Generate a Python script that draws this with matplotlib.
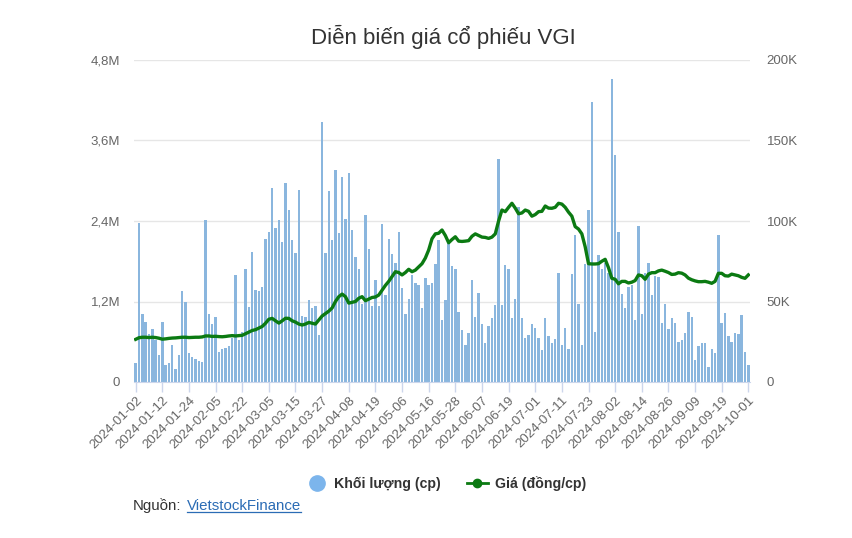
import matplotlib
matplotlib.use("Agg")
import matplotlib.pyplot as plt
from matplotlib.lines import Line2D
import pandas as pd
import numpy as np

plt.rcParams['font.family'] = ['Liberation Sans', 'DejaVu Sans']

# ---------------- data ----------------
holidays = ["2024-01-01", "2024-02-08", "2024-02-09", "2024-02-12", "2024-02-13",
            "2024-02-14", "2024-04-18", "2024-04-29", "2024-04-30", "2024-05-01",
            "2024-09-02", "2024-09-03"]
dates = pd.bdate_range("2024-01-02", "2024-10-01", freq="C", holidays=holidays)
date_labels = [d.strftime("%Y-%m-%d") for d in dates]

volume_m = [
    0.28, 2.37, 1.01, 0.89, 0.72, 0.79, 0.63, 0.40, 0.89, 0.25,
    0.29, 0.55, 0.20, 0.40, 1.35, 1.20, 0.43, 0.37, 0.34, 0.32,
    0.30, 2.41, 1.01, 0.87, 0.97, 0.45, 0.49, 0.50, 0.53, 0.65,
    1.60, 0.63, 0.75, 1.68, 1.12, 1.94, 1.37, 1.35, 1.42, 2.13,
    2.24, 2.89, 2.29, 2.41, 2.08, 2.96, 2.57, 2.12, 1.93, 2.86,
    0.98, 0.97, 1.22, 1.10, 1.13, 0.70, 3.87, 1.93, 2.84, 2.12,
    3.16, 2.22, 3.06, 2.43, 3.12, 2.27, 1.87, 1.69, 1.17, 2.49,
    1.98, 1.13, 1.52, 1.13, 2.36, 1.30, 2.13, 1.91, 1.78, 2.24,
    1.40, 1.01, 1.23, 1.60, 1.48, 1.45, 1.11, 1.55, 1.45, 1.48,
    1.76, 2.12, 0.93, 1.22, 2.07, 1.73, 1.68, 1.05, 0.78, 0.55,
    0.73, 1.52, 0.97, 1.32, 0.87, 0.58, 0.83, 0.95, 1.15, 3.32,
    1.15, 1.74, 1.69, 0.96, 1.23, 2.61, 0.95, 0.65, 0.70, 0.87,
    0.80, 0.65, 0.48, 0.95, 0.68, 0.58, 0.64, 1.62, 0.55, 0.80,
    0.49, 1.61, 2.19, 1.16, 0.55, 1.76, 2.57, 4.17, 0.75, 1.89,
    1.69, 1.78, 1.62, 4.51, 3.38, 2.24, 1.31, 1.11, 1.42, 1.45,
    0.92, 2.32, 1.01, 1.63, 1.78, 1.30, 1.58, 1.57, 0.88, 1.16,
    0.79, 0.95, 0.88, 0.60, 0.63, 0.73, 1.05, 0.97, 0.33, 0.53,
    0.58, 0.58, 0.23, 0.49, 0.43, 2.19, 0.88, 1.03, 0.68, 0.60,
    0.73, 0.72, 1.00, 0.45, 0.25,
]

price_k = [
    26.5, 27.5, 27.8, 27.8, 27.6, 27.8, 27.6, 27.2, 26.6, 26.8,
    27.1, 27.3, 27.4, 27.6, 27.8, 27.8, 27.6, 27.7, 27.8, 27.8,
    28.0, 28.6, 28.6, 28.3, 28.4, 28.2, 28.1, 28.3, 28.6, 28.8,
    28.6, 28.8, 29.0, 30.0, 31.0, 32.0, 32.5, 33.5, 34.5, 36.5,
    39.0, 39.5, 38.0, 36.6, 38.0, 39.6, 39.5, 38.0, 37.2, 36.0,
    35.4, 36.0, 37.0, 36.5, 36.0, 38.5, 41.0, 42.5, 44.0, 46.0,
    50.0, 53.0, 54.6, 53.0, 49.0, 49.5, 50.0, 52.0, 53.0, 50.5,
    51.5, 52.5, 52.8, 54.0, 57.0, 60.0, 62.5, 65.5, 68.5, 68.0,
    66.5, 68.0, 70.0, 68.5, 69.5, 71.5, 73.5, 77.0, 82.0, 89.0,
    92.0, 92.4, 94.4, 91.0, 86.5, 88.5, 90.2, 87.5, 87.3, 87.5,
    87.8, 90.5, 92.0, 91.0, 90.0, 89.8, 89.2, 90.0, 92.0, 100.0,
    106.8, 105.8, 108.5, 111.0, 108.0, 104.5, 105.0, 106.8, 106.0, 103.0,
    104.0, 105.8, 106.0, 109.3, 108.0, 107.9, 108.5, 111.0, 110.5, 108.5,
    105.5, 103.0, 96.5, 95.0, 92.0, 84.0, 73.5, 73.3, 73.3, 73.5,
    75.0, 76.2, 71.0, 64.4, 63.8, 61.0, 62.5, 62.5, 61.5, 62.0,
    63.0, 66.5, 66.0, 63.8, 67.0, 67.9, 67.9, 69.0, 69.5, 68.8,
    68.0, 66.8, 67.0, 67.9, 67.6, 66.5, 64.5, 63.5, 62.8, 62.3,
    62.3, 62.5, 62.0, 61.3, 62.5, 67.5, 67.5, 66.0, 65.8, 67.0,
    66.5, 66.0, 65.0, 64.4, 66.5,
]

left_ticks = [0, 1.2, 2.4, 3.6, 4.8]
left_tick_labels = ["0", "1,2M", "2,4M", "3,6M", "4,8M"]
right_ticks = [0, 50, 100, 150, 200]
right_tick_labels = ["0", "50K", "100K", "150K", "200K"]

title = "Diễn biến giá cổ phiếu VGI"
vol_label = "Khối lượng (cp)"
price_label = "Giá (đồng/cp)"

# ---------------- styling ----------------
bar_color = "#8ab6de"
line_color = "#0b7a12"
text_grey = "#666666"

W, H = 852, 538
fig = plt.figure(figsize=(W / 100, H / 100), dpi=100)
ax = fig.add_axes([134 / W, 1 - 382 / H, (750 - 134) / W, (382 - 60) / H])
ax2 = ax.twinx()

x = np.arange(len(dates))
ax.bar(x, volume_m, width=0.72, color=bar_color, edgecolor="none", zorder=2)
ax2.plot(x, price_k, color=line_color, lw=2.4, zorder=3, solid_joinstyle="round")

ax.set_xlim(-0.5, len(dates) - 0.5)
ax.set_ylim(0, 4.8)
ax2.set_ylim(0, 200)

ax.set_yticks(left_ticks)
ax.set_yticklabels(left_tick_labels)
ax2.set_yticks(right_ticks)
ax2.set_yticklabels(right_tick_labels)

ax.yaxis.grid(True, color="#e6e6e6", lw=1, zorder=0)
ax.set_axisbelow(True)

tick_idx = list(range(0, len(dates), 8))
ax.set_xticks(tick_idx)
ax.set_xticklabels([date_labels[i] for i in tick_idx], rotation=45,
                   ha="right", va="top", rotation_mode="anchor")

for a in (ax, ax2):
    for s in a.spines.values():
        s.set_visible(False)
ax.spines["bottom"].set_visible(True)
ax.spines["bottom"].set_color("#ccd6eb")

ax.tick_params(axis="x", colors="#ccd6eb", length=7, width=1, labelcolor=text_grey,
               labelsize=9.5, pad=2)
ax.tick_params(axis="y", length=0, labelcolor=text_grey, labelsize=9.5, pad=10)
ax2.tick_params(axis="y", length=0, labelcolor=text_grey, labelsize=9.5, pad=12)

fig.text(443 / W, 1 - 37 / H, title, ha="center", va="center",
         fontsize=16, color="#333333")

handles = [
    Line2D([], [], marker="o", ls="none", markersize=11, color="#7cb5ec",
           markeredgecolor="#7cb5ec"),
    Line2D([], [], marker="o", ls="-", lw=2, markersize=6, color=line_color),
]
leg = fig.legend(handles, [vol_label, price_label], loc="center",
                 bbox_to_anchor=(446 / W, 1 - 484 / H), ncol=2, frameon=False,
                 prop={"weight": "bold", "size": 10.2}, handlelength=1.5,
                 columnspacing=1.8, handletextpad=0.5)
for t in leg.get_texts():
    t.set_color("#333333")

src = fig.text(133 / W, 1 - 506 / H, "Nguồn:", ha="left", va="center",
               fontsize=10.8, color="#333333")
fig.canvas.draw()
sb = src.get_window_extent()
inv = fig.transFigure.inverted()
lx = inv.transform((sb.x1 + 5, 0))[0]
link = fig.text(lx, 1 - 506 / H, "VietstockFinance", ha="left", va="center",
                fontsize=10.8, color="#2b6cb5")
fig.canvas.draw()
bb = link.get_window_extent()
(x0, y0), (x1, y1) = inv.transform([(bb.x0, bb.y0 + 1), (bb.x1, bb.y0 + 1)])
fig.add_artist(Line2D([x0, x1], [y0, y1], transform=fig.transFigure,
                      color="#2b6cb5", lw=0.9))

fig.savefig("out.png", dpi=100, facecolor="white")
